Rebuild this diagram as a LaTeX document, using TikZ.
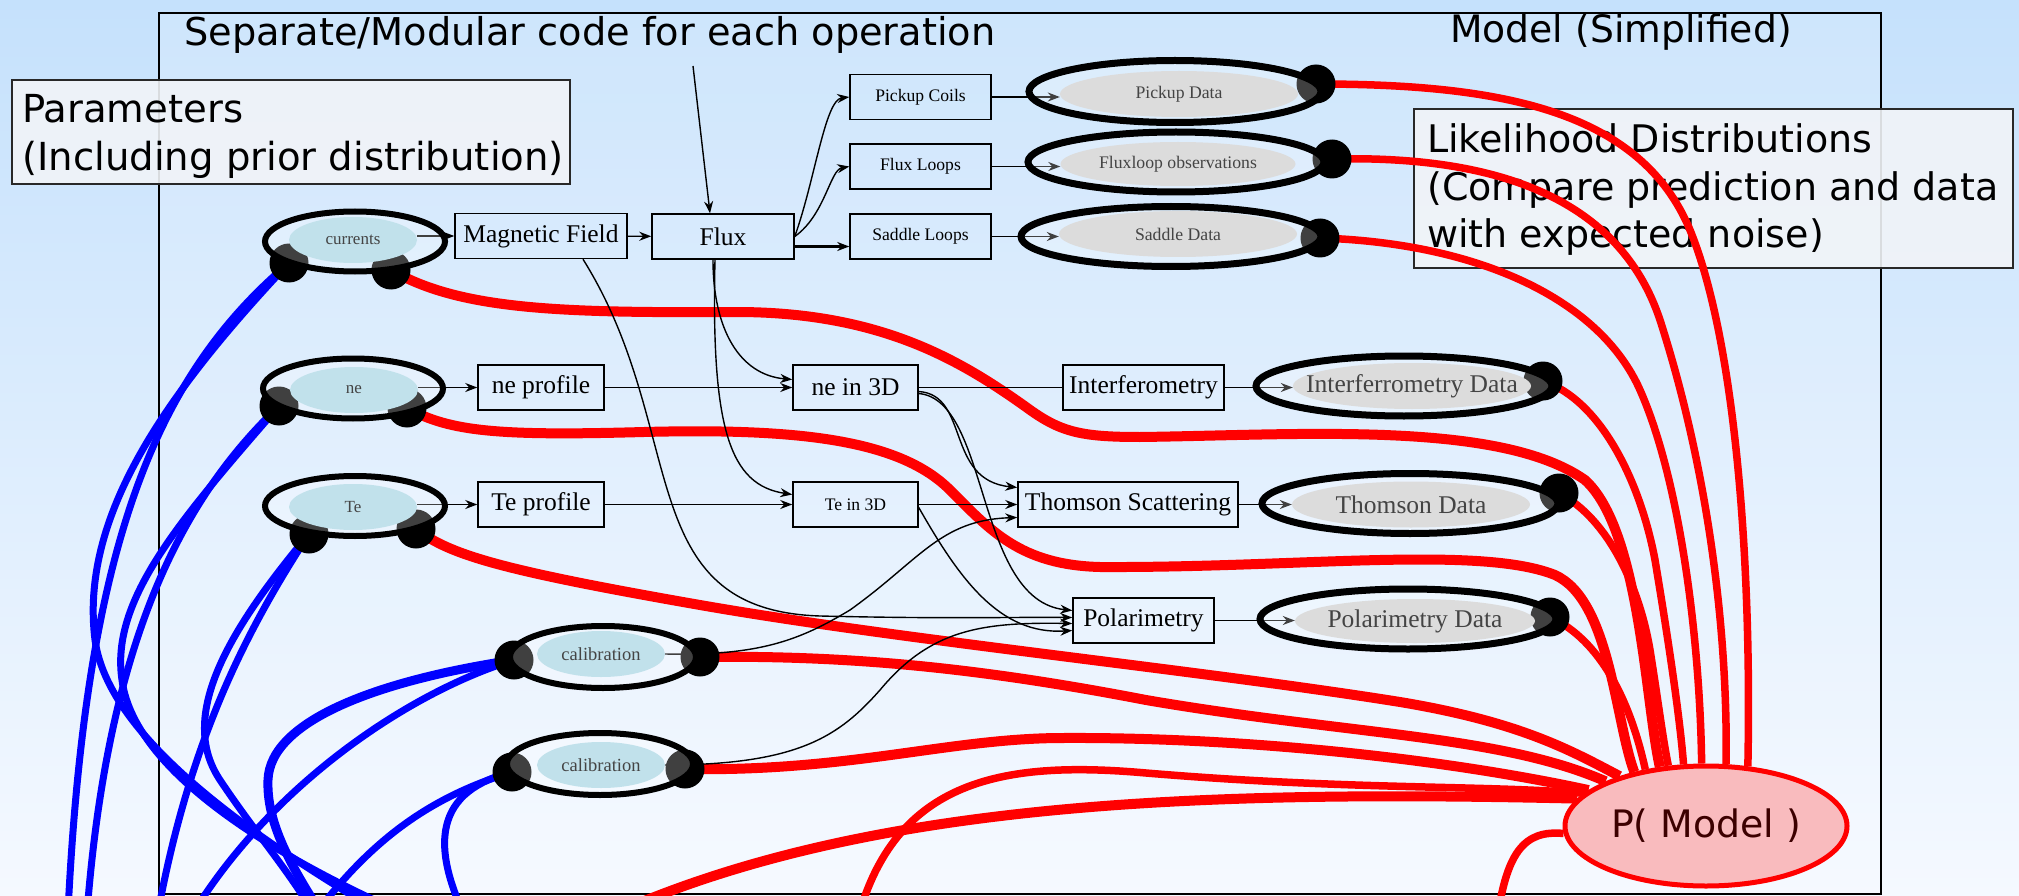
\documentclass[tikz,border=0pt]{standalone}
\usepackage{fontspec}
\setmainfont{Liberation Serif}
\newfontfamily\dejavu{DejaVu Sans}
\usetikzlibrary{shapes.geometric,arrows.meta}
\pgfdeclarelayer{back}
\pgfdeclarelayer{bg}
\pgfdeclarelayer{thick}
\pgfdeclarelayer{thin}
\pgfdeclarelayer{plugs}
\pgfsetlayers{back,bg,thick,thin,plugs,main}
\definecolor{prior}{RGB}{193,225,235}
\definecolor{obsgray}{RGB}{220,220,220}
\definecolor{labgray}{RGB}{68,68,68}
\definecolor{pmodel}{RGB}{249,187,190}
\definecolor{pmtext}{RGB}{60,0,0}
\definecolor{bgtop}{RGB}{197,225,252}
\definecolor{bgbot}{RGB}{245,249,255}
\definecolor{boxfill}{RGB}{241,244,248}
\definecolor{boxedge}{RGB}{40,40,40}
\begin{document}
\begin{tikzpicture}[x=1pt, y=-1pt,
    >={Stealth[length=12pt,width=9pt]},
    opbox/.style={draw, line width=1.5pt, inner sep=0pt, minimum height=45pt, font=\fontsize{25.5}{30}\selectfont},
    opsmall/.style={opbox, font=\fontsize{17.6}{21}\selectfont},
    parring/.style={ellipse, draw, line width=6pt, fill=white, fill opacity=0.25, minimum width=180pt, minimum height=60pt},
    parcore/.style={ellipse, fill=prior, inner xsep=-30pt, inner ysep=0pt, minimum width=128pt, minimum height=46pt, text=labgray, font=\fontsize{17}{20}\selectfont},
    obsring/.style={ellipse, draw, line width=7pt, fill=white, fill opacity=0.25, minimum width=296pt, minimum height=60pt},
    obscore/.style={ellipse, fill=obsgray, inner xsep=-40pt, inner ysep=0pt, minimum width=238pt, minimum height=46pt, text=labgray, font=\fontsize{25.5}{30}\selectfont},
    obssmall/.style={obscore, font=\fontsize{17.7}{21}\selectfont},
    plug/.style={circle, fill=black, inner sep=0pt, minimum size=39pt},
    txtbox/.style={draw=boxedge, line width=2pt, fill=boxfill, fill opacity=0.9, text opacity=1},
    link/.style={line width=1.4pt},
    redw/.style={red, line width=10pt},
    redn/.style={red, line width=7.5pt},
    bluew/.style={blue, line width=7pt}]
    \begin{pgfonlayer}{back}
    \shade[top color=bgtop, bottom color=bgbot] (0,0) rectangle (2019,896);
    \end{pgfonlayer}
    \useasboundingbox (0,0) rectangle (2019,896);

    \begin{pgfonlayer}{bg}
    \draw[line width=2pt, fill=white, fill opacity=0.15] (159,13) rectangle (1881,894);
    \node[anchor=base west, inner sep=0pt, font=\dejavu\fontsize{38.3}{46}\selectfont] (title) at (184,46) {Separate/Modular code for each operation};
    \node[anchor=base west, inner sep=0pt, font=\dejavu\fontsize{37.7}{46}\selectfont] (modeltitle) at (1450,43) {Model (Simplified)};
    \node[txtbox, minimum width=558pt, minimum height=104pt] (params) at (291,132) {};
    \node[anchor=north west, align=left, inner sep=0pt, font=\dejavu\fontsize{38.6}{48}\selectfont] (params-t) at (22,94) {Parameters\\(Including prior distribution)};
    \node[txtbox, minimum width=599pt, minimum height=159pt] (like) at (1713.5,188.5) {};
    \node[anchor=north west, align=left, inner sep=0pt, font=\dejavu\fontsize{38}{47.5}\selectfont] (like-t) at (1427,123.5) {Likelihood Distributions\\(Compare prediction and data\\with expected noise)};
    \end{pgfonlayer}

    \node[opbox, minimum width=172pt] (magfield) at (541,236) {Magnetic Field};
    \node[opbox, minimum width=142pt] (flux) at (723,236.5) {Flux};
    \node[opsmall, minimum width=141pt] (pickup) at (920.5,97) {Pickup Coils};
    \node[opsmall, minimum width=141pt] (fluxloops) at (920.5,166.5) {Flux Loops};
    \node[opsmall, minimum width=141pt] (saddle) at (920.5,236.5) {Saddle Loops};
    \node[opbox, minimum width=126pt] (neprof) at (541,387.5) {ne profile};
    \node[opbox, minimum width=126pt] (teprof) at (541,504.5) {Te profile};
    \node[opbox, minimum width=125pt] (ne3d) at (855.5,387.5) {ne in 3D};
    \node[opsmall, minimum width=125pt] (te3d) at (855.5,504.5) {Te in 3D};
    \node[opbox, minimum width=161pt] (interf) at (1143.5,387.5) {Interferometry};
    \node[opbox, minimum width=220pt] (thomson) at (1128,504.5) {Thomson Scattering};
    \node[opbox, minimum width=141pt] (polar) at (1143.5,620.5) {Polarimetry};

    \node[parring] (cur) at (355,241.5) {};
    \node[parcore] (cur-in) at (353,240) {currents};
    \node[parring] (ne) at (353,388.5) {};
    \node[parcore] (ne-in) at (354,390) {ne};
    \node[parring] (te) at (355,506) {};
    \node[parcore] (te-in) at (353,507) {Te};
    \node[parring, minimum width=186pt, minimum height=62pt] (cal1) at (603,657) {};
    \node[parcore, font=\fontsize{18.5}{22}\selectfont] (cal1-in) at (601,654) {calibration};
    \node[parring, minimum width=186pt, minimum height=62pt] (cal2) at (600,764) {};
    \node[parcore, font=\fontsize{18.5}{22}\selectfont] (cal2-in) at (601,765) {calibration};

    \node[obsring, minimum width=292pt, minimum height=62pt] (pick) at (1175,91.5) {};
    \node[obssmall] (pick-in) at (1179,94) {Pickup Data};
    \node[obsring] (fl) at (1176,162) {};
    \node[obssmall, minimum width=235pt, minimum height=44pt] (fl-in) at (1178,164) {Fluxloop observations};
    \node[obsring, minimum width=300pt] (sad) at (1171,236.5) {};
    \node[obssmall] (sad-in) at (1178,234) {Saddle Data};
    \node[obsring] (int) at (1404,386) {};
    \node[obscore] (int-in) at (1412,386) {Interferrometry Data};
    \node[obsring] (thom) at (1410,503.5) {};
    \node[obscore] (thom-in) at (1411,504.5) {Thomson Data};
    \node[obsring] (pol) at (1408,619) {};
    \node[obscore, minimum width=240pt, minimum height=44pt] (pol-in) at (1415,621) {Polarimetry Data};

    \node[ellipse, draw=red, line width=5pt, fill=pmodel, inner sep=0pt, minimum width=282pt, minimum height=120pt, text=pmtext, font=\dejavu\fontsize{37.8}{45}\selectfont] (pm) at (1706,826) {P( Model )};

    \begin{pgfonlayer}{plugs}
    \node[plug] (cur-l) at (289,263) {};
    \node[plug] (cur-r) at (391,270) {};
    \node[plug] (ne-l) at (279,406) {};
    \node[plug] (ne-r) at (407,408) {};
    \node[plug] (te-l) at (309,534) {};
    \node[plug] (te-r) at (416,529) {};
    \node[plug] (cal1-l) at (514,660) {};
    \node[plug] (cal1-r) at (700,657) {};
    \node[plug] (cal2-l) at (512,772) {};
    \node[plug] (cal2-r) at (685,769) {};
    \node[plug] (pick-d) at (1316,84) {};
    \node[plug] (fl-d) at (1332,159) {};
    \node[plug] (sad-d) at (1320,238) {};
    \node[plug] (int-d) at (1543,381) {};
    \node[plug] (thom-d) at (1559,493) {};
    \node[plug] (pol-d) at (1550,617) {};
    \end{pgfonlayer}

    \coordinate (bot1) at (66,960);
    \coordinate (bot2) at (410,930);
    \coordinate (bot3) at (84,960);
    \coordinate (bot4) at (430,925);
    \coordinate (bot5) at (150,960);
    \coordinate (bot6) at (330,940);
    \coordinate (bot7) at (175,945);
    \coordinate (bot8) at (335,935);
    \coordinate (bot9) at (480,945);
    \coordinate (bot10) at (300,935);
    \coordinate (rbot1) at (590,925);
    \coordinate (rbot2) at (855,930);
    \coordinate (rbot3) at (1496,930);
    \coordinate (op) at (693,66);

    \begin{pgfonlayer}{thick}
    \draw[bluew] (cur-l.center) .. controls (150,380) and (80,560) .. (bot1);
    \draw[bluew] (cur-l.center) .. controls (160,400) and (80,520) .. (95,640) .. controls (110,750) and (290,860) .. (bot2);
    \draw[bluew] (ne-l.center) .. controls (180,500) and (100,650) .. (bot3);
    \draw[bluew] (ne-l.center) .. controls (180,520) and (110,600) .. (122,680) .. controls (135,780) and (300,870) .. (bot4);
    \draw[bluew] (te-l.center) .. controls (240,640) and (180,760) .. (bot5);
    \draw[bluew] (te-l.center) .. controls (220,640) and (180,720) .. (220,780) .. controls (260,840) and (290,870) .. (bot6);
    \draw[bluew] (cal1-l.center) .. controls (400,695) and (250,800) .. (bot7);
    \draw[bluew, line width=9pt] (cal1-l.center) .. controls (380,680) and (270,720) .. (268,780) .. controls (266,830) and (300,880) .. (bot8);
    \draw[bluew] (cal2-l.center) .. controls (440,790) and (420,840) .. (bot9);
    \draw[bluew] (cal2-l.center) .. controls (420,800) and (360,850) .. (bot10);

    \draw[redn] (pick-d.center) .. controls (1500,84) and (1640,110) .. (1690,230) .. controls (1735,340) and (1752,560) .. (pm.55);
    \draw[redn] (fl-d.center) .. controls (1500,155) and (1620,200) .. (1660,320) .. controls (1705,460) and (1728,620) .. (pm.72);
    \draw[redn] (sad-d.center) .. controls (1480,243) and (1600,300) .. (1640,390) .. controls (1680,480) and (1700,640) .. (pm.94);
    \draw[redn] (int-d.center) .. controls (1600,400) and (1640,480) .. (1655,560) .. controls (1670,650) and (1680,720) .. (pm.110);
    \draw[redn] (thom-d.center) .. controls (1610,520) and (1640,590) .. (1650,650) .. controls (1658,700) and (1663,740) .. (pm.122);
    \draw[redn] (pol-d.center) .. controls (1600,640) and (1630,700) .. (pm.137);
    \draw[redw] (cur-r.center) .. controls (460,310) and (560,313) .. (736,312) .. controls (880,312) and (960,360) .. (1026,407) .. controls (1060,432) and (1080,437) .. (1140,437) .. controls (1300,435) and (1500,420) .. (1585,480) .. controls (1640,530) and (1645,700) .. (pm.128);
    \draw[redw] (ne-r.center) .. controls (450,432) and (500,436) .. (644,432) .. controls (800,428) and (900,440) .. (950,490) .. controls (990,530) and (1020,565) .. (1100,567) .. controls (1300,568) and (1480,545) .. (1555,575) .. controls (1610,600) and (1615,720) .. (pm.143);
    \draw[redw] (te-r.center) .. controls (450,555) and (500,570) .. (700,605) .. controls (900,640) and (1200,670) .. (1400,702) .. controls (1520,722) and (1570,750) .. (pm.150);
    \draw[redw] (cal1-r.center) .. controls (850,655) and (980,668) .. (1146,700) .. controls (1350,735) and (1500,735) .. (pm.156);
    \draw[redw] (cal2-r.center) .. controls (850,772) and (950,738) .. (1063,738) .. controls (1250,737) and (1450,760) .. (pm.163);
    \draw[redw] (rbot1) .. controls (850,800) and (1200,790) .. (pm.168);
    \draw[redn] (rbot2) .. controls (890,780) and (1000,760) .. (1146,773) .. controls (1350,790) and (1480,785) .. (pm.165);
    \draw[redn] (rbot3) .. controls (1505,850) and (1525,830) .. (pm.183);
    \end{pgfonlayer}

    \begin{pgfonlayer}{thin}
    \draw[link,->] (op) -- ([xshift=-13pt]flux.north);
    \draw[link,->] (cur-in.east |- magfield.west) -- (magfield.west);
    \draw[link,->] (magfield) -- (flux);
    \draw[line width=2.5pt,->] ([yshift=-10pt]flux.east) -- ([yshift=-10pt]saddle.west);
    \draw[link,->] (flux.east) .. controls (815,180) and (825,100) .. (pickup.west);
    \draw[link,->] (flux.east) .. controls (825,215) and (830,170) .. (fluxloops.west);
    \draw[link,->] ([xshift=-10pt]flux.south) .. controls (713,330) and (740,375) .. ([yshift=8pt]ne3d.west);
    \draw[link,->] ([xshift=-8pt]flux.south) .. controls (711,430) and (730,485) .. ([yshift=10pt]te3d.west);
    \draw[link,->] (ne-in.east |- neprof.west) -- (neprof.west);
    \draw[link,->] (te-in.east |- teprof.west) -- (teprof.west);
    \draw[link,->] (neprof) -- (ne3d);
    \draw[link,->] (teprof) -- (te3d);
    \draw[link] (ne3d) -- (interf);
    \draw[link,->] (te3d) -- (thomson);
    \draw[link,->] ([yshift=-4pt]ne3d.east) .. controls (970,395) and (945,480) .. ([yshift=17pt]thomson.west);
    \draw[link,->] ([yshift=-6pt]ne3d.east) .. controls (990,400) and (975,600) .. ([yshift=10pt]polar.west);
    \draw[link,->] ([yshift=-3pt]te3d.east) .. controls (960,580) and (1000,635) .. ([yshift=-10pt]polar.west);
    \draw[link,->] ([xshift=42pt]magfield.south) .. controls (690,430) and (630,610) .. (820,616) .. controls (950,619) and (1000,617) .. ([yshift=3pt]polar.west);
    \draw[link,->] (cal1-in.east) .. controls (760,656) and (800,640) .. (850,610) .. controls (920,560) and (940,520) .. ([yshift=-13pt]thomson.west);
    \draw[link,->] (cal2-in.east) .. controls (800,765) and (840,735) .. (880,690) .. controls (930,630) and (980,622) .. ([yshift=-3pt]polar.west);
    \draw[link,->] (pickup.east) -- (pickup.east -| pick-in.west);
    \draw[link,->] (fluxloops.east) -- (fluxloops.east -| fl-in.west);
    \draw[link,->] (saddle.east) -- (saddle.east -| sad-in.west);
    \draw[link,->] (interf.east) -- (interf.east -| int-in.west);
    \draw[link,->] (thomson.east) -- (thomson.east -| thom-in.west);
    \draw[link,->] (polar.east) -- (polar.east -| pol-in.west);
    \end{pgfonlayer}
\end{tikzpicture}
\end{document}
